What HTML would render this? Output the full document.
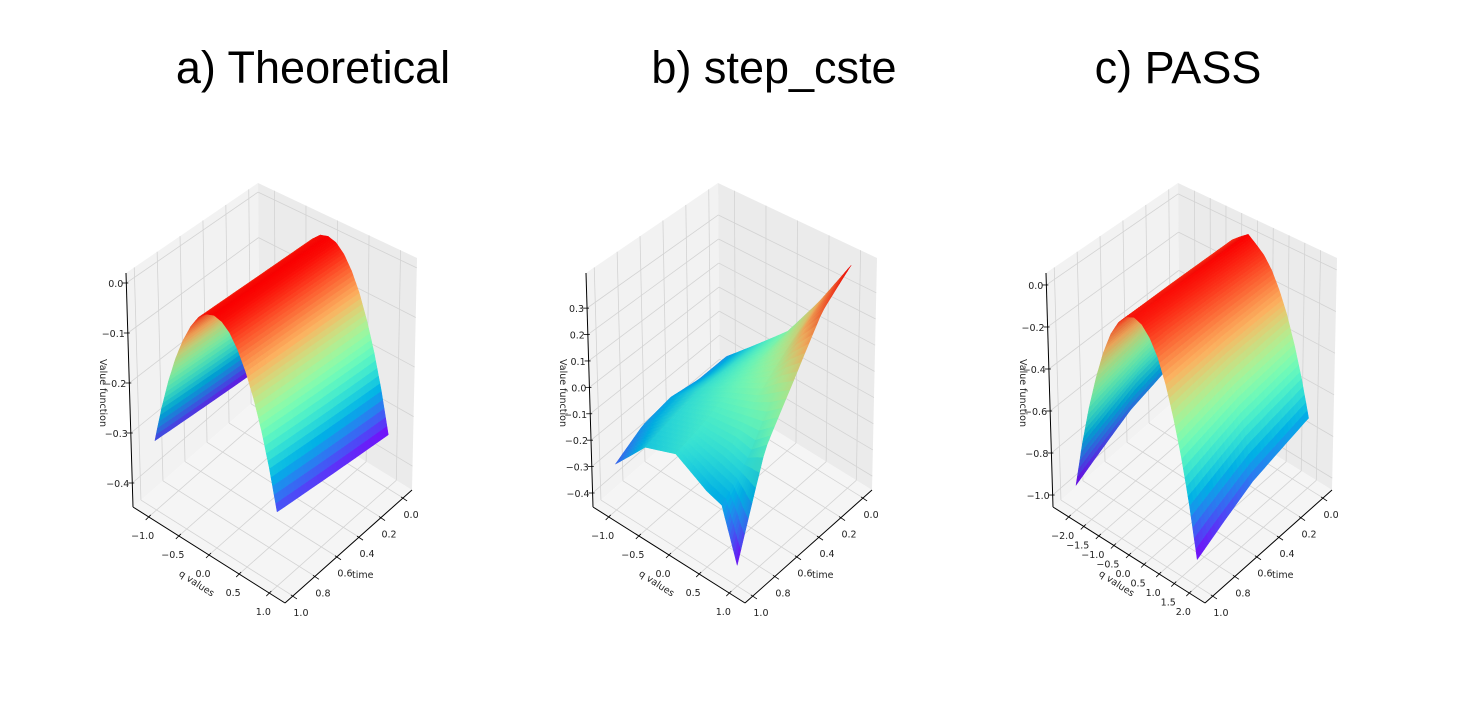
<!DOCTYPE html>
<html><head><meta charset="utf-8"><style>
html,body{margin:0;padding:0;background:#fff;}
svg{display:block;font-family:"DejaVu Sans","Liberation Sans",sans-serif;}
.title{font-family:"Liberation Sans",sans-serif;font-size:45px;fill:#000;}
.tk{font-size:9.5px;fill:#222;}
</style></head><body>
<svg id="fig" width="1471" height="711" viewBox="0 0 1471 711">
<rect width="1471" height="711" fill="#fff"/>
<text class="title" x="313" y="83" text-anchor="middle">a) Theoretical</text>
<text class="title" x="774" y="83" text-anchor="middle">b) step_cste</text>
<text class="title" x="1178" y="83" text-anchor="middle">c) PASS</text>
</svg>
<script>
// ---- data ----
const aQ = [-1,-0.875,-0.75,-0.625,-0.5,-0.375,-0.25,-0.125,0,0.125,0.25,0.375,0.5,0.625,0.75,0.875,1];
const aT = [0,0.5,1];
const aZt0 = [-0.34,-0.26,-0.191,-0.133,-0.085,-0.048,-0.021,-0.005,0,-0.005,-0.021,-0.048,-0.085,-0.133,-0.191,-0.26,-0.34];
const aZt5 = [-0.325,-0.249,-0.183,-0.127,-0.081,-0.046,-0.020,-0.005,0,-0.005,-0.020,-0.046,-0.081,-0.127,-0.183,-0.249,-0.325];
const aZt1 = [-0.31,-0.237,-0.174,-0.121,-0.078,-0.044,-0.019,-0.005,0,-0.005,-0.019,-0.044,-0.078,-0.121,-0.174,-0.237,-0.31];

const bQ = [-1,-0.5,0,0.5,0.75,1];
const bT = [0,0.25,0.5,0.75,1];
const bZt0 = [-0.22,-0.10,0.02,0.20,0.30,0.40];
const bZt25 = [-0.22,-0.10,0.00,0.12,0.22,0.30];
const bZt5 = [-0.20,-0.10,-0.03,0.03,0.08,0.12];
const bZt75 = [-0.22,-0.12,-0.08,-0.08,-0.10,-0.05];
const bZt1 = [-0.28,-0.15,-0.11,-0.18,-0.20,-0.38];

const cQ = [-2,-1.75,-1.5,-1.25,-1,-0.75,-0.5,-0.25,0,0.25,0.5,0.75,1,1.25,1.5,1.75,2];
const cT = [0,0.5,1];
const cZt0 = [-0.72,-0.55,-0.405,-0.28,-0.18,-0.10,-0.045,-0.011,0.02,-0.011,-0.045,-0.10,-0.18,-0.28,-0.405,-0.55,-0.72];
const cZt5 = [-0.80,-0.61,-0.45,-0.31,-0.20,-0.11,-0.05,-0.013,0.01,-0.013,-0.05,-0.11,-0.20,-0.31,-0.45,-0.61,-0.80];
const cZt1 = [-0.94,-0.72,-0.53,-0.37,-0.235,-0.13,-0.059,-0.015,0,-0.015,-0.059,-0.13,-0.235,-0.37,-0.53,-0.72,-0.94];

const qTicksAB = [-1,-0.5,0,0.5,1];
const qTicksC = [-2,-1.5,-1,-0.5,0,0.5,1,1.5,2];
const tTicks = [0,0.2,0.4,0.6,0.8,1.0];
const zTicksA = [-0.4,-0.3,-0.2,-0.1,0.0];
const zTicksB = [-0.4,-0.3,-0.2,-0.1,0.0,0.1,0.2,0.3];
const zTicksC = [-1.0,-0.8,-0.6,-0.4,-0.2,0.0];

const NS='http://www.w3.org/2000/svg';
const svg=document.getElementById('fig');
function mk(tag,attrs,parent){const e=document.createElementNS(NS,tag);for(const k in attrs)e.setAttribute(k,attrs[k]);(parent||svg).appendChild(e);return e;}

const CB={B:[260,396],R:[412,490],L:[133,507],F:[285,603]};
const CT={B:[258,183],R:[417,258],L:[126,273],F:[285,348]};
function proj(dx,u,v,w){
  const f=(C,i)=>C.B[i]*(1-u)*(1-v)+C.R[i]*u*(1-v)+C.L[i]*(1-u)*v+C.F[i]*u*v;
  const bx=f(CB,0),by=f(CB,1),tx=f(CT,0),ty=f(CT,1);
  return [dx+bx*(1-w)+tx*w, by*(1-w)+ty*w];
}
function rainbow(x){x=Math.max(0,Math.min(1,x));
  const r=Math.min(1,Math.abs(2*x-0.5)),g=Math.sin(Math.PI*x),b=Math.cos(Math.PI*x/2);
  return [r,g,b];}
function fmt(v){const s=v.toFixed(1);return s.startsWith('-')?'\u2212'+s.slice(1):s;}

function panel(cfg){
  const g=mk('g',{}); 
  
  const dx=cfg.dx,[q0,q1]=cfg.qr,[t0,t1]=cfg.tr,[z0,z1]=cfg.zr;
  const U=q=>(q-q0)/(q1-q0),V=t=>(t-t0)/(t1-t0),W=z=>(z-z0)/(z1-z0);
  const P=(u,v,w)=>proj(dx,u,v,w);
  const pts=a=>a.map(p=>p[0].toFixed(1)+','+p[1].toFixed(1)).join(' ');
  const lw=mk('polygon',{points:pts([P(0,0,0),P(0,1,0),P(0,1,1),P(0,0,1)]),fill:'#f2f2f2'},g);
  
  const rw=mk('polygon',{points:pts([P(0,0,0),P(1,0,0),P(1,0,1),P(0,0,1)]),fill:'#ebebeb'},g);
  
  const fl=mk('polygon',{points:pts([P(0,0,0),P(1,0,0),P(1,1,0),P(0,1,0)]),fill:'#f5f5f5'},g);
  
  const gl=(a,b)=>{const l=mk('line',{x1:a[0],y1:a[1],x2:b[0],y2:b[1],stroke:'#d3d3d3','stroke-width':0.8},g);
    };
  cfg.qt.forEach(q=>{const u=U(q);gl(P(u,0,0),P(u,1,0));gl(P(u,0,0),P(u,0,1));});
  tTicks.forEach(t=>{const v=V(t);gl(P(0,v,0),P(1,v,0));gl(P(0,v,0),P(0,v,1));});
  cfg.zt.forEach(z=>{const w=W(z);gl(P(0,0,w),P(1,0,w));gl(P(0,0,w),P(0,1,w));});
  const ax=(a,b,n)=>{const l=mk('line',{x1:a[0],y1:a[1],x2:b[0],y2:b[1],stroke:'#000','stroke-width':1},g);
    };
  ax(P(0,1,0),P(1,1,0),'q-axis');ax(P(1,0,0),P(1,1,0),'time-axis');ax(P(0,1,0),P(0,1,1),'z-axis');
  const Q=cfg.Q,T=cfg.T,Z=cfg.Z;
  let vmin=Infinity,vmax=-Infinity;Z.forEach(r=>r.forEach(z=>{vmin=Math.min(vmin,z);vmax=Math.max(vmax,z);}));
  function val(q,t){
    let i=0;while(i<Q.length-2&&q>Q[i+1])i++;let j=0;while(j<T.length-2&&t>T[j+1])j++;
    const a=(q-Q[i])/(Q[i+1]-Q[i]),b=(t-T[j])/(T[j+1]-T[j]);
    return Z[j][i]*(1-a)*(1-b)+Z[j][i+1]*a*(1-b)+Z[j+1][i]*(1-a)*b+Z[j+1][i+1]*a*b;}
  const NQ=80,NT=30,qa=Q[0],qb=Q[Q.length-1],ta=T[0],tb=T[T.length-1];
  const quads=[];
  for(let i=0;i<NQ;i++)for(let j=0;j<NT;j++){
    const qs=[qa+(qb-qa)*i/NQ,qa+(qb-qa)*(i+1)/NQ],ts=[ta+(tb-ta)*j/NT,ta+(tb-ta)*(j+1)/NT];
    const c=[[qs[0],ts[0]],[qs[1],ts[0]],[qs[1],ts[1]],[qs[0],ts[1]]].map(([q,t])=>[U(q),V(t),W(val(q,t)),val(q,t)]);
    const zm=(c[0][3]+c[1][3]+c[2][3]+c[3][3])/4;
    const du=c[1][0]-c[0][0],dwq=((c[1][2]-c[0][2])+(c[2][2]-c[3][2]))/2;
    const dv=c[3][1]-c[0][1],dwt=((c[3][2]-c[0][2])+(c[2][2]-c[1][2]))/2;
    let nx=-dwq/du,ny=-dwt/dv,nz=1;const nn=Math.hypot(nx*0.5,ny*0.5,nz);
    const light=(nx*0.5*0.45+ny*0.5*(-0.35)+nz*0.8)/nn;
    const sh=0.88+0.12*Math.max(0,Math.min(1,light));
    const depth=(c[0][0]+c[2][0])/2+(c[0][1]+c[2][1])/2+0.8*(c[0][2]+c[2][2])/2;
    quads.push({c,zm,sh,depth});
  }
  quads.sort((a,b)=>a.depth-b.depth);
  const sg=mk('g',{},g);
  quads.forEach(o=>{const col=rainbow((o.zm-vmin)/(vmax-vmin)).map(x=>Math.round(255*x*o.sh));
    const s='rgb('+col.join(',')+')';
    const p=mk('polygon',{points:pts(o.c.map(k=>P(k[0],k[1],k[2]))),fill:s,stroke:s,'stroke-width':0.5},sg);
    });
  const txt=(x,y,s,anchor,n)=>{const t=mk('text',{x:x,y:y,class:'tk','text-anchor':anchor},g);t.textContent=s;
    return t;};
  cfg.qt.forEach(q=>{const u=U(q);const a=P(u,1,0);
    mk('line',{x1:a[0]+2,y1:a[1]-2,x2:a[0]-3,y2:a[1]+3,stroke:'#000','stroke-width':0.8},g);
    txt(a[0]-6,a[1]+22,fmt(q),'middle','q-tick-label');});
  tTicks.forEach(t=>{const v=V(t);const a=P(1,v,0);
    mk('line',{x1:a[0]-2,y1:a[1]-1,x2:a[0]+4,y2:a[1]+3,stroke:'#000','stroke-width':0.8},g);
    txt(a[0]+8,a[1]+20,fmt(t),'middle','time-tick-label');});
  cfg.zt.forEach(z=>{const w=W(z);const a=P(0,1,w);
    mk('line',{x1:a[0]-4,y1:a[1],x2:a[0]+2,y2:a[1],stroke:'#000','stroke-width':0.8},g);
    txt(a[0]-3,a[1]+4,fmt(z),'end','z-tick-label');});
  txt(dx+352,578,'time','start','time-axis-title');
  const ql=mk('text',{class:'tk',transform:'translate('+(dx+195)+',586) rotate(33)','text-anchor':'middle'},g);
  ql.textContent='q values';
  const zl=mk('text',{class:'tk',transform:'translate('+(dx+100)+',393) rotate(90)','text-anchor':'middle'},g);
  zl.textContent='Value function';
}
panel({name:'panel-theoretical',dx:0,qr:[-1.26,1.26],tr:[-0.081,1.072],zr:[-0.448,0.020],
  Q:aQ,T:aT,Z:[aZt0,aZt5,aZt1],qt:qTicksAB,zt:zTicksA});
panel({name:'panel-step-cste',dx:460,qr:[-1.26,1.26],tr:[-0.081,1.072],zr:[-0.453,0.433],
  Q:bQ,T:bT,Z:[bZt0,bZt25,bZt5,bZt75,bZt1],qt:qTicksAB,zt:zTicksB});
panel({name:'panel-pass',dx:920,qr:[-2.52,2.52],tr:[-0.081,1.072],zr:[-1.057,0.057],
  Q:cQ,T:cT,Z:[cZt0,cZt5,cZt1],qt:qTicksC,zt:zTicksC});
</script>
</body></html>
